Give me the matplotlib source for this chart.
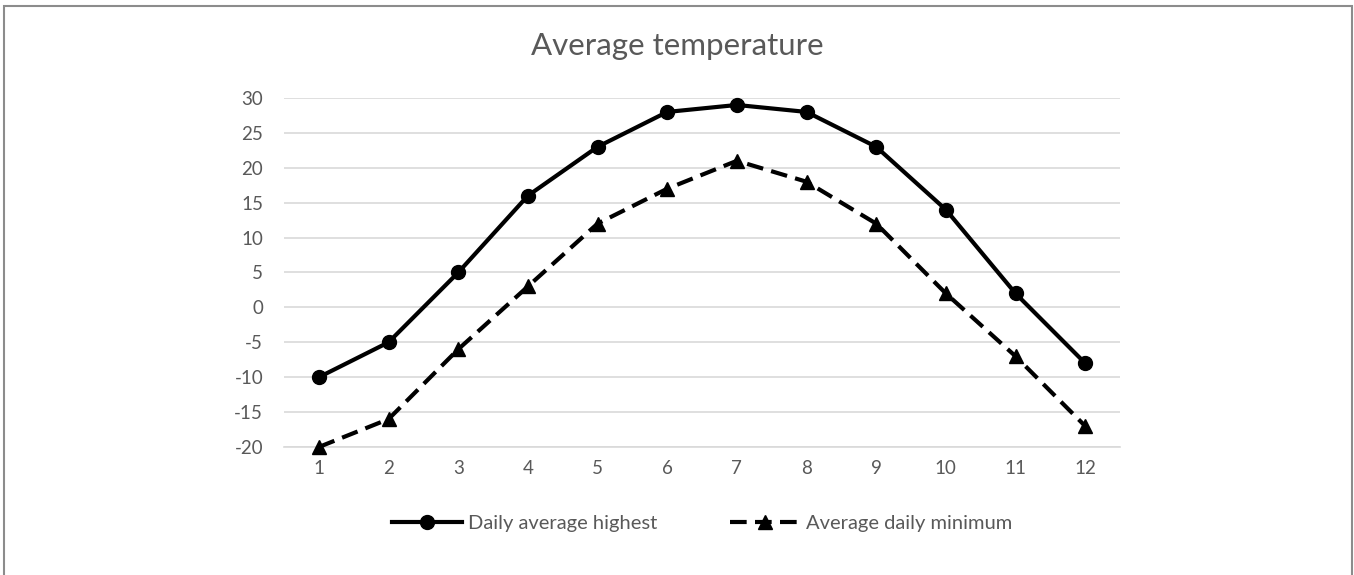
import matplotlib
matplotlib.use("Agg")
import matplotlib.pyplot as plt
from matplotlib.patches import Rectangle

months = [1, 2, 3, 4, 5, 6, 7, 8, 9, 10, 11, 12]
daily_high = [-10, -5, 5, 16, 23, 28, 29, 28, 23, 14, 2, -8]
daily_min = [-20, -16, -6, 3, 12, 17, 21, 18, 12, 2, -7, -17]
yticks = [-20, -15, -10, -5, 0, 5, 10, 15, 20, 25, 30]

plt.rcParams['font.family'] = ['Lato', 'DejaVu Sans']
plt.rcParams['axes.unicode_minus'] = False
gray = '#595959'

fig = plt.figure(figsize=(13.54, 5.75), dpi=100)
ax = fig.add_axes([0.2098, 0.2226, 0.6174, 0.607])

ax.plot(months, daily_high, color='black', lw=3, marker='o', markersize=10,
        label='Daily average highest', zorder=3, clip_on=False)
ax.plot(months, daily_min, color='black', lw=3, marker='^', markersize=10,
        dashes=(4, 2), label='Average daily minimum', zorder=3, clip_on=False)

ax.set_xlim(0.5, 12.5)
ax.set_ylim(-20, 30)
ax.set_yticks(yticks)
ax.set_xticks(months)
ax.yaxis.grid(True, color='#d9d9d9', lw=1.2)
ax.set_axisbelow(True)
for s in ['top', 'right', 'left']:
    ax.spines[s].set_visible(False)
ax.spines['bottom'].set_color('#d9d9d9')
ax.spines['bottom'].set_linewidth(1.2)
ax.tick_params(axis='both', length=0, labelsize=13.5, labelcolor=gray, pad=9)
ax.tick_params(axis='y', pad=15)

fig.text(0.5, 0.92, 'Average temperature', ha='center', va='center',
         fontsize=22.5, color=gray)

leg = ax.legend(loc='center', bbox_to_anchor=(0.5, -0.22), ncol=2,
                frameon=False, fontsize=14.5, labelcolor=gray,
                handlelength=3.5, columnspacing=3.6, handletextpad=0.3)

fig.add_artist(Rectangle((4 / 1354, -0.05), (1352 - 4) / 1354, 1.05 - 6 / 575,
                         transform=fig.transFigure, fill=False,
                         edgecolor='#8c8c8c', lw=1.5))

fig.savefig('out.png', dpi=100)
